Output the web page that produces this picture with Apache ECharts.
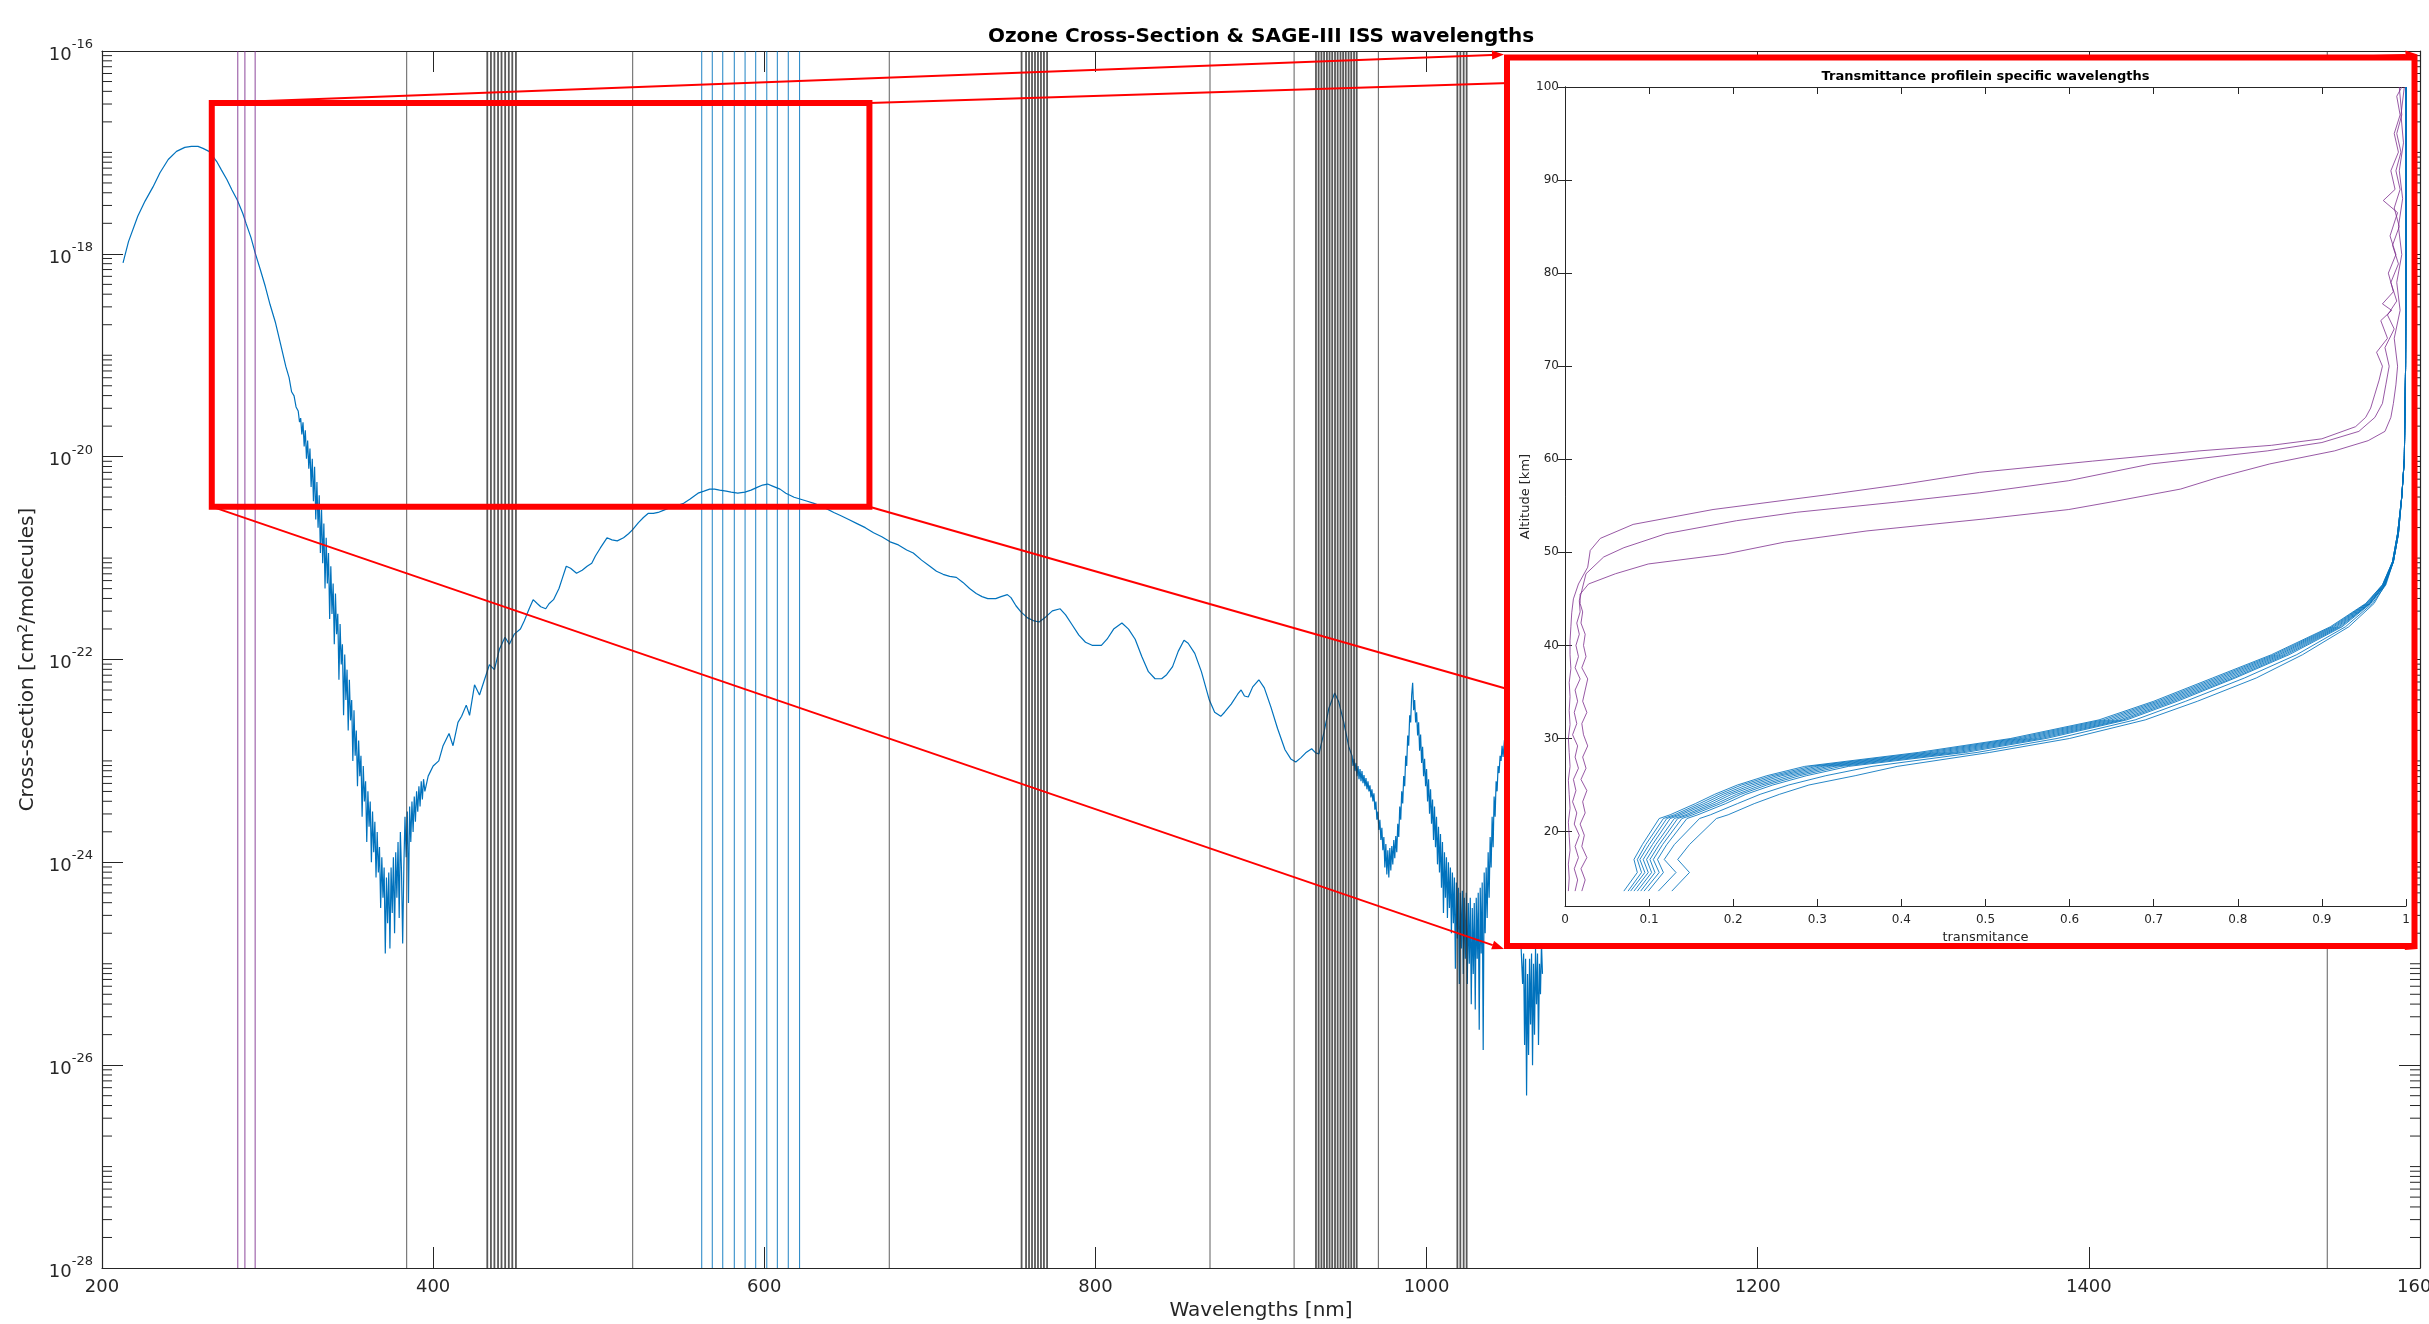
<!DOCTYPE html>
<html><head><meta charset="utf-8">
<script src="https://cdn.jsdelivr.net/npm/echarts@6/dist/echarts.min.js"></script>
<style>html,body{margin:0;padding:0;background:#fff}#c{width:2429px;height:1324px}</style>
</head><body><div id="c"></div>
<script>
// ---------------- DATA ----------------
// Ozone absorption cross-section: [wavelength nm, log10(cross-section cm^2/molecule)]
const o3Spectrum = [
[212.7,-18.09],[216,-17.88],[221.6,-17.63],[226,-17.48],[230.8,-17.34],[235,-17.20],[240,-17.07],[245,-16.99],[250,-16.95],[254,-16.94],
[258,-16.94],[261,-16.96],[264.6,-16.99],[267,-17.04],[269.3,-17.09],[272,-17.17],[275.5,-17.27],[278.5,-17.37],[281.7,-17.47],[285,-17.60],
[287,-17.70],[290,-17.84],[292.5,-17.99],[295.5,-18.15],[298.6,-18.32],[301.5,-18.50],[304.8,-18.68],[308,-18.90],[311,-19.11],[313,-19.22],
[314.5,-19.36],[316,-19.40],[317.2,-19.51],[318.5,-19.55],[319.3,-19.66],
[320.0,-19.62],[320.7,-19.78],[321.4,-19.66],[322.1,-19.90],[322.8,-19.74],[323.5,-20.02],[324.2,-19.84],[324.9,-20.12],[325.6,-19.92],[326.3,-20.30],
[327.0,-20.02],[327.7,-20.44],[328.4,-20.10],[329.1,-20.62],[329.8,-20.25],[330.5,-20.70],[331.2,-20.38],[331.9,-20.95],[332.6,-20.52],[333.3,-21.05],
[334.0,-20.66],[334.7,-21.30],[335.4,-20.80],[336.1,-21.25],[336.8,-20.95],[337.5,-21.60],[338.2,-21.08],[338.9,-21.55],[339.6,-21.25],[340.3,-21.85],
[341.0,-21.35],[341.7,-21.75],[342.4,-21.55],[343.1,-22.20],[343.8,-21.65],[344.5,-22.05],[345.2,-21.85],[345.9,-22.55],[346.6,-21.95],[347.3,-22.40],
[348.0,-22.10],[348.7,-22.70],[349.4,-22.20],[350.1,-22.60],[350.8,-22.40],[351.5,-23.00],[352.2,-22.50],[352.9,-22.95],[353.6,-22.70],[354.3,-23.25],
[355.0,-22.80],[355.7,-23.15],[356.4,-22.95],[357.1,-23.55],[357.8,-23.05],[358.5,-23.40],[359.2,-23.20],[359.9,-23.80],[360.6,-23.30],[361.3,-23.65],
[362.0,-23.40],[362.7,-24.00],[363.4,-23.50],[364.1,-23.90],[364.8,-23.60],[365.5,-24.15],[366.2,-23.70],[366.9,-24.10],[367.6,-23.85],[368.3,-24.45],
[369.0,-23.95],[369.7,-24.35],[370.4,-24.05],[371.1,-24.90],[371.8,-24.15],[372.5,-24.60],[373.2,-24.10],[373.9,-24.85],[374.6,-24.05],[375.3,-24.50],
[376.0,-23.95],[376.7,-24.70],[377.4,-23.90],[378.1,-24.35],[378.8,-23.80],[379.5,-24.55],[380.2,-23.70],[380.9,-24.10],[381.6,-24.80],[382.3,-24.05],
[383.0,-23.55],[383.7,-23.95],[384.4,-23.50],[385.1,-24.40],[385.8,-23.45],[386.5,-23.80],[387.2,-23.40],[387.9,-23.70],[388.6,-23.35],[389.3,-23.60],
[390.0,-23.30],[390.7,-23.50],[391.4,-23.25],[392.1,-23.45],[392.8,-23.20],[393.5,-23.38],[394.2,-23.18],[395.0,-23.30],
[397,-23.15],[400,-23.05],[403.4,-23.00],[406,-22.85],[409.6,-22.73],[412,-22.85],[415,-22.62],[417.2,-22.56],[420,-22.45],[422,-22.55],
[425,-22.25],[428,-22.35],[431,-22.20],[434,-22.05],[437,-22.10],[440,-21.90],[443.4,-21.78],[446,-21.85],[449,-21.75],[452.7,-21.70],
[455,-21.62],[458,-21.50],[460.4,-21.41],[463,-21.45],[465,-21.48],[468,-21.50],[470,-21.45],[472.7,-21.41],[476,-21.30],[478,-21.20],
[480.4,-21.08],[483,-21.10],[486.6,-21.15],[490,-21.12],[493,-21.08],[495.8,-21.05],[498,-20.98],[501,-20.90],[505,-20.80],[508,-20.82],
[511.2,-20.83],[515,-20.80],[518,-20.76],[520.5,-20.72],[524,-20.65],[527,-20.60],[529.8,-20.56],[533,-20.56],[535.9,-20.55],[539,-20.53],
[542,-20.51],[546,-20.49],[551.3,-20.46],[555,-20.42],[560,-20.36],[563.6,-20.34],[567,-20.32],[570,-20.32],[573,-20.33],[577,-20.34],
[580,-20.35],[584,-20.36],[588.3,-20.35],[592,-20.33],[596,-20.30],[599,-20.28],[602,-20.27],[605,-20.29],[609.5,-20.32],[613,-20.36],
[618,-20.40],[622,-20.42],[626,-20.44],[630,-20.46],[636,-20.50],[642,-20.55],[646,-20.58],[651,-20.62],[656,-20.66],[661,-20.70],
[666,-20.75],[671,-20.79],[676,-20.84],[681,-20.87],[686,-20.92],[690,-20.95],[695,-21.02],[700,-21.08],[704,-21.13],[708,-21.16],
[712,-21.18],[716,-21.19],[720,-21.24],[724,-21.30],[728,-21.35],[731.5,-21.38],[735,-21.40],[739.8,-21.40],[743,-21.38],[746.8,-21.36],
[749,-21.39],[752,-21.47],[755,-21.53],[759,-21.59],[763,-21.62],[766,-21.63],[770,-21.58],[774,-21.52],[778.7,-21.50],[782,-21.56],
[786,-21.66],[790,-21.76],[794,-21.83],[798,-21.86],[803.6,-21.86],[807,-21.80],[811,-21.70],[816,-21.64],[820,-21.70],[824,-21.80],
[828,-21.97],[832,-22.12],[836,-22.19],[840,-22.19],[843,-22.15],[846.6,-22.07],[850,-21.92],[853.5,-21.81],[856,-21.84],[860,-21.94],
[864,-22.12],[868.8,-22.40],[872,-22.52],[875.7,-22.56],[878,-22.52],[882,-22.44],[886,-22.34],[888,-22.30],[890,-22.36],[892.3,-22.37],
[895,-22.27],[898.7,-22.20],[902,-22.28],[906,-22.47],[910,-22.68],[914.5,-22.89],[918,-22.98],[921,-23.01],[924,-22.97],[927,-22.92],
[930.6,-22.88],[933,-22.92],[935,-22.93],[938,-22.72],[941,-22.48],[944.5,-22.33],[947,-22.42],[950,-22.62],[953,-22.86],
[955.0,-22.95],[955.6,-23.05],[956.2,-22.98],[956.8,-23.10],[957.4,-23.02],[958.0,-23.15],[958.6,-23.05],[959.2,-23.18],[959.8,-23.08],[960.4,-23.20],
[961.0,-23.10],[961.6,-23.22],[962.2,-23.14],[962.8,-23.25],[963.4,-23.17],[964.0,-23.28],[964.6,-23.20],[965.2,-23.30],[965.8,-23.24],[966.4,-23.36],
[967.0,-23.28],[967.6,-23.40],[968.2,-23.32],[968.8,-23.48],[969.4,-23.40],[970.0,-23.58],[970.6,-23.50],[971.2,-23.68],[971.8,-23.58],[972.4,-23.78],
[973.0,-23.66],[973.6,-23.88],[974.2,-23.75],[974.8,-24.05],[975.4,-23.82],[976.0,-24.12],[976.6,-23.88],[977.2,-24.15],[977.8,-23.86],[978.4,-24.08],
[979.0,-23.84],[979.6,-24.02],[980.2,-23.78],[980.8,-23.96],[981.4,-23.74],[982.0,-23.90],[982.6,-23.62],[983.2,-23.75],[983.8,-23.45],[984.4,-23.58],
[985.0,-23.30],[985.6,-23.42],[986.2,-23.15],[986.8,-23.25],[987.4,-22.95],[988.0,-23.05],[988.6,-22.75],[989.2,-22.85],[989.8,-22.55],[990.4,-22.62],
[991.0,-22.35],[991.6,-22.23],[992.2,-22.50],[992.8,-22.40],[993.4,-22.62],[994.0,-22.52],[994.6,-22.75],[995.2,-22.62],[995.8,-22.90],[996.4,-22.74],
[997.0,-23.02],[997.6,-22.86],[998.2,-23.15],[998.8,-22.98],[999.4,-23.25],[1000.0,-23.08],[1000.6,-23.40],[1001.2,-23.18],[1001.8,-23.52],[1002.4,-23.28],
[1003.0,-23.62],[1003.6,-23.38],[1004.2,-23.78],[1004.8,-23.45],[1005.4,-23.85],[1006.0,-23.55],[1006.6,-24.02],[1007.2,-23.65],[1007.8,-24.10],[1008.4,-23.72],
[1009.0,-24.25],[1009.6,-23.80],[1010.2,-24.50],[1010.8,-23.90],[1011.4,-24.35],[1012.0,-23.95],[1012.6,-24.55],[1013.2,-24.00],[1013.8,-24.45],[1014.4,-24.05],
[1015.0,-24.70],[1015.6,-24.10],[1016.2,-24.60],[1016.8,-24.15],[1017.4,-25.05],[1018.0,-24.20],[1018.6,-24.75],[1019.2,-24.25],[1019.8,-25.20],[1020.4,-24.30],
[1021.0,-24.85],[1021.6,-24.28],[1022.2,-25.10],[1022.8,-24.35],[1023.4,-24.95],[1024.0,-24.30],[1024.6,-25.20],[1025.2,-24.40],[1025.8,-25.00],[1026.4,-24.35],
[1027.0,-25.40],[1027.6,-24.45],[1028.2,-25.10],[1028.8,-24.40],[1029.4,-25.45],[1030.0,-24.35],[1030.6,-24.95],[1031.2,-24.30],[1031.8,-25.65],[1032.4,-24.25],
[1033.0,-24.90],[1033.6,-24.20],[1034.2,-25.85],[1034.8,-24.10],[1035.4,-24.70],[1036.0,-24.05],[1036.6,-24.55],[1037.2,-23.90],[1037.8,-24.35],[1038.4,-23.75],
[1039.0,-24.05],[1039.6,-23.55],[1040.2,-23.85],[1040.8,-23.35],[1041.4,-23.55],[1042.0,-23.20],[1042.6,-23.30],[1043.2,-23.05],[1043.8,-23.12],[1044.4,-22.95],
[1045.0,-23.00],[1045.6,-22.85],[1046.2,-22.96],[1047,-22.80],[1048,-22.70],[1050,-22.90],[1052,-23.40],[1054,-23.90],[1056,-24.40],[1057,-24.80],
[1058,-25.20],[1058.6,-24.90],[1059.2,-25.80],[1059.8,-24.95],[1060.4,-26.30],[1061.0,-25.10],[1061.6,-25.90],[1062.2,-24.95],[1062.8,-25.60],[1063.4,-24.90],
[1064.0,-26.00],[1064.6,-25.00],[1065.2,-25.70],[1065.8,-24.85],[1066.4,-25.40],[1067.0,-24.90],[1067.6,-25.80],[1068.2,-25.00],[1068.8,-25.30],[1069.4,-24.80],
[1070.0,-25.10]
];

// SAGE-III ISS channel wavelengths (nm)
const sageGraySingle = [384, 520.5, 675.5, 869.2, 920, 970.9, 1544];
const sageGrayBands = [432.7, 434.9, 437.0, 439.2, 441.3, 443.5, 445.7, 447.8, 450.0,
  755.4, 758.1, 759.9, 761.7, 763.5, 765.3, 767.1, 768.9, 770.8,
  933.2, 934.8, 936.5, 938.1, 939.8, 941.4, 943.0, 944.7, 946.3, 948.0, 949.6, 951.2, 952.9, 954.5, 956.2, 957.8,
  1018.6, 1020.4, 1022.4, 1024.2];
const sageBlue = [562.2, 568.6, 574.9, 581.9, 588.4, 594.8, 601.5, 607.9, 614.5, 621.3];
const sagePurple = [282.0, 286.3, 292.5];

// Inset: transmittance profiles
const blueAltitudes = [13.6,15.6,17.0,18.6,21.4,21.8,23.0,24.0,25.0,26.0,27.0,28.5,30.0,32.0,34.0,36.5,39.0,42.0,44.5,46.5,49.0,52.0,56.0,60.0,70,80,90,100];
const blueTransmittance = [
 [0.070,0.086,0.082,0.092,0.112,0.125,0.155,0.178,0.205,0.240,0.285,0.420,0.530,0.635,0.700,0.770,0.840,0.910,0.952,0.972,0.984,0.990,0.995,0.998,0.9995,1,1,1],
 [0.075,0.091,0.086,0.096,0.117,0.130,0.160,0.183,0.210,0.246,0.292,0.428,0.536,0.640,0.704,0.774,0.843,0.912,0.953,0.972,0.984,0.990,0.995,0.998,0.9995,1,1,1],
 [0.078,0.095,0.089,0.100,0.121,0.134,0.165,0.188,0.216,0.252,0.299,0.436,0.542,0.645,0.708,0.778,0.846,0.914,0.954,0.973,0.984,0.990,0.995,0.998,0.9995,1,1,1],
 [0.082,0.099,0.093,0.104,0.125,0.138,0.170,0.193,0.222,0.258,0.306,0.444,0.548,0.650,0.712,0.782,0.849,0.916,0.955,0.973,0.985,0.990,0.995,0.998,0.9995,1,1,1],
 [0.086,0.103,0.097,0.108,0.130,0.143,0.175,0.198,0.228,0.265,0.313,0.452,0.554,0.655,0.716,0.786,0.852,0.918,0.956,0.974,0.985,0.991,0.995,0.998,0.9995,1,1,1],
 [0.090,0.107,0.101,0.112,0.134,0.147,0.180,0.204,0.234,0.272,0.320,0.460,0.560,0.660,0.720,0.790,0.855,0.920,0.957,0.974,0.985,0.991,0.995,0.998,0.9995,1,1,1],
 [0.094,0.112,0.105,0.116,0.139,0.152,0.185,0.209,0.240,0.279,0.328,0.468,0.566,0.664,0.724,0.794,0.858,0.922,0.957,0.975,0.985,0.991,0.995,0.998,0.9995,1,1,1],
 [0.099,0.117,0.110,0.121,0.145,0.158,0.191,0.215,0.247,0.287,0.337,0.476,0.572,0.668,0.728,0.797,0.861,0.924,0.958,0.975,0.985,0.991,0.995,0.998,0.9995,1,1,1],
 [0.111,0.132,0.118,0.130,0.160,0.173,0.205,0.232,0.266,0.310,0.365,0.490,0.585,0.678,0.738,0.808,0.870,0.928,0.960,0.976,0.985,0.991,0.995,0.998,0.9995,1,1,1],
 [0.127,0.148,0.134,0.148,0.180,0.194,0.225,0.255,0.290,0.345,0.395,0.505,0.600,0.690,0.752,0.822,0.877,0.932,0.962,0.975,0.984,0.990,0.995,0.998,0.9995,1,1,1]
];
// purple profiles: [transmittance, altitude km]
const purpleProfile1 = [[0.004,13.6],[0.005,15],[0.004,16.5],[0.006,18],[0.005,19.5],[0.004,21],[0.006,22.5],[0.005,24],[0.004,25.5],[0.006,27],
 [0.005,28.5],[0.004,30],[0.006,31.5],[0.005,33],[0.006,34.5],[0.005,36],[0.007,37.5],[0.006,39],[0.006,40.5],[0.007,42],[0.008,43.5],[0.010,45],
 [0.016,46.6],[0.027,48.4],[0.030,50.2],[0.042,51.5],[0.081,53.0],[0.176,54.6],[0.317,56.25],[0.401,57.3],[0.493,58.6],[0.627,59.8],[0.754,60.9],
 [0.84,61.5],[0.90,62.2],[0.94,63.5],[0.952,64.5],[0.958,65.5],[0.963,67],[0.968,68.5],[0.972,70],[0.965,71.5],[0.978,73],[0.970,74.9],[0.983,76],
 [0.972,76.7],[0.985,78],[0.979,80],[0.988,82],[0.981,84],[0.990,86.5],[0.973,87.8],[0.987,89],[0.982,91],[0.991,93],[0.986,95],[0.993,97],[0.989,99],[0.995,100]];
const purpleProfile2 = [[0.012,13.6],[0.015,14.8],[0.011,16],[0.016,17.2],[0.012,18.4],[0.017,19.6],[0.011,20.8],[0.014,22],[0.009,23.2],[0.013,24.4],
 [0.010,25.6],[0.016,26.8],[0.012,28],[0.015,29.2],[0.009,30.4],[0.014,31.6],[0.011,32.8],[0.015,34],[0.012,35.2],[0.018,36.4],[0.012,37.6],[0.016,38.8],
 [0.013,40],[0.017,41.2],[0.014,42.4],[0.018,43.6],[0.017,44.8],[0.020,45.9],[0.025,47.7],[0.046,49.5],[0.070,50.5],[0.120,52.0],[0.204,53.4],[0.275,54.3],
 [0.394,55.4],[0.493,56.4],[0.599,57.7],[0.697,59.5],[0.835,60.9],[0.90,61.8],[0.944,63],[0.963,64.5],[0.972,66],[0.976,68],[0.980,70],[0.975,72],
 [0.986,74],[0.978,75.5],[0.989,77],[0.982,79],[0.991,81],[0.984,83],[0.992,85],[0.986,87],[0.993,89],[0.988,91],[0.994,93],[0.989,95],[0.995,97],[0.992,100]];
const purpleProfile3 = [[0.020,13.6],[0.024,14.8],[0.019,16],[0.026,17.2],[0.020,18.4],[0.023,19.6],[0.018,20.8],[0.024,22],[0.021,23.2],[0.026,24.4],
 [0.019,25.6],[0.025,26.8],[0.021,28],[0.027,29.2],[0.022,30.4],[0.020,31.6],[0.026,32.8],[0.021,34],[0.024,35.2],[0.027,36.4],[0.020,37.6],[0.025,38.8],
 [0.022,40],[0.024,41.2],[0.019,42.4],[0.021,43.6],[0.018,44.5],[0.018,45.5],[0.028,46.6],[0.060,47.7],[0.099,48.75],[0.190,49.8],[0.261,51.1],[0.359,52.3],
 [0.500,53.6],[0.599,54.6],[0.655,55.5],[0.732,56.8],[0.775,58.0],[0.838,59.5],[0.915,60.9],[0.955,62],[0.975,63],[0.982,64.5],[0.985,66],[0.988,68],
 [0.990,70],[0.986,73],[0.993,76],[0.989,79],[0.995,82],[0.991,85],[0.996,88],[0.992,91],[0.997,94],[0.994,97],[0.998,100]];

// Axis ticks / labels
const xTickStep = 200, xMin = 200, xMax = 1600;
const yExpMin = -28, yExpMax = -16, yExpStep = 2;
const insetAltTicks = [20, 30, 40, 50, 60, 70, 80, 90, 100];
// zoom annotation box on the main axes (wavelength nm, log10 cross-section)
const zoomBox = { x0: 266.3, x1: 663.5, y0: -16.513, y1: -20.493 };

// ---------------- CHART ----------------
const FONT = 'DejaVu Sans';
const AX = '#262626';
const chart = echarts.init(document.getElementById('c'), null, { renderer: 'canvas' });

// minor log ticks (2..9 within each decade, plus unlabeled odd decades)
const minorTicks = [];
for (let e = yExpMin; e < yExpMax; e++) {
  if ((e - yExpMin) % yExpStep !== 0) minorTicks.push(e);
  for (let k = 2; k <= 9; k++) minorTicks.push(e + Math.log10(k));
}

function vlines(values, color, opacity, width) {
  return {
    type: 'custom', xAxisIndex: 0, yAxisIndex: 0, z: 3, silent: true, animation: false,
    data: values.map(v => [v, yExpMax]),
    renderItem: (params, api) => {
      const p1 = api.coord([api.value(0), yExpMin]);
      const p2 = api.coord([api.value(0), yExpMax]);
      return { type: 'line', shape: { x1: p1[0], y1: p1[1], x2: p2[0], y2: p2[1] },
        style: { stroke: color, lineWidth: width, opacity: opacity } };
    }
  };
}

const insetSeries = [];
blueTransmittance.forEach(arr => {
  insetSeries.push({ type: 'line', xAxisIndex: 2, yAxisIndex: 2, z: 20, showSymbol: false, silent: true,
    data: arr.map((t, i) => [t, blueAltitudes[i]]),
    lineStyle: { color: '#0072BD', width: 1, opacity: 0.85 } });
});
[purpleProfile1, purpleProfile2, purpleProfile3].forEach(p => {
  insetSeries.push({ type: 'line', xAxisIndex: 2, yAxisIndex: 2, z: 20, showSymbol: false, silent: true,
    data: p, lineStyle: { color: '#7E2F8E', width: 1, opacity: 0.8 } });
});

const axisLineStyle = { color: AX, width: 1.2 };
const option = {
  animation: false,
  backgroundColor: '#fff',
  textStyle: { fontFamily: FONT },
  title: [
    { text: 'Ozone Cross-Section & SAGE-III ISS wavelengths', left: 1261, top: 27, textAlign: 'center', padding: 0,
      textStyle: { fontSize: 20, fontWeight: 'bold', color: '#000', fontFamily: FONT } },
    { text: 'Transmittance profilein specific wavelengths', left: 1985.5, top: 70, textAlign: 'center', padding: 0, z: 20,
      textStyle: { fontSize: 13, fontWeight: 'bold', color: '#000', fontFamily: FONT } }
  ],
  grid: [
    { left: 102, top: 51, width: 2318, height: 1217, containLabel: false, outerBoundsMode: 'none' },
    { left: 1565, top: 87, width: 841, height: 819, containLabel: false, outerBoundsMode: 'none' }
  ],
  xAxis: [
    { type: 'value', gridIndex: 0, min: xMin, max: xMax, interval: xTickStep, position: 'bottom',
      axisLine: { show: true, lineStyle: axisLineStyle }, splitLine: { show: false },
      axisTick: { show: true, inside: true, length: 21, lineStyle: { color: AX, width: 1 } },
      axisLabel: { fontSize: 18, color: AX, margin: 10, fontFamily: FONT, formatter: v => String(v) },
      name: 'Wavelengths [nm]', nameLocation: 'middle', nameGap: 32,
      nameTextStyle: { fontSize: 20, color: AX, fontFamily: FONT } },
    { type: 'value', gridIndex: 0, min: xMin, max: xMax, interval: xTickStep, position: 'top',
      axisLine: { show: true, lineStyle: axisLineStyle }, splitLine: { show: false },
      axisTick: { show: true, inside: true, length: 21, lineStyle: { color: AX, width: 1 } },
      axisLabel: { show: false } },
    { type: 'value', gridIndex: 1, min: 0, max: 1, interval: 0.1, position: 'bottom', z: 20,
      axisLine: { show: true, lineStyle: { color: AX, width: 1 } }, splitLine: { show: false },
      axisTick: { show: true, inside: true, length: 7, lineStyle: { color: AX, width: 1 } },
      axisLabel: { fontSize: 12, color: AX, margin: 8, fontFamily: FONT,
        formatter: v => (Math.abs(v) < 1e-9 ? '0' : Math.abs(v - 1) < 1e-9 ? '1' : v.toFixed(1)) },
      name: 'transmitance', nameLocation: 'middle', nameGap: 22,
      nameTextStyle: { fontSize: 13, color: AX, fontFamily: FONT } },
    { type: 'value', gridIndex: 1, min: 0, max: 1, interval: 0.1, position: 'top', z: 20,
      axisLine: { show: true, lineStyle: { color: AX, width: 1 } }, splitLine: { show: false },
      axisTick: { show: true, inside: true, length: 7, lineStyle: { color: AX, width: 1 } },
      axisLabel: { show: false } }
  ],
  yAxis: [
    { type: 'value', gridIndex: 0, min: yExpMin, max: yExpMax, interval: yExpStep, position: 'left',
      axisLine: { show: true, lineStyle: axisLineStyle }, splitLine: { show: false },
      axisTick: { show: true, inside: true, length: 21, lineStyle: { color: AX, width: 1 } },
      axisLabel: { color: AX, margin: 9, fontSize: 18, fontFamily: FONT,
        formatter: v => '{b|10}{s|' + v + '}',
        rich: { b: { fontSize: 18, fontFamily: FONT, color: AX, lineHeight: 26, verticalAlign: 'bottom' },
                s: { fontSize: 13, fontFamily: FONT, color: AX, lineHeight: 26, verticalAlign: 'top', padding: [0, 0, 0, 0] } } },
      name: 'Cross-section [cm{s|2}/molecules]', nameLocation: 'middle', nameGap: 58,
      nameTextStyle: { fontSize: 20, color: AX, fontFamily: FONT,
        rich: { s: { fontSize: 14, fontFamily: FONT, color: AX, verticalAlign: 'top', lineHeight: 24 } } } },
    { type: 'value', gridIndex: 0, min: yExpMin, max: yExpMax, interval: yExpStep, position: 'right',
      axisLine: { show: true, lineStyle: axisLineStyle }, splitLine: { show: false },
      axisTick: { show: true, inside: true, length: 21, lineStyle: { color: AX, width: 1 } },
      axisLabel: { show: false } },
    { type: 'value', gridIndex: 1, min: 12, max: 100, position: 'left', z: 20,
      axisLine: { show: true, lineStyle: { color: AX, width: 1 } }, splitLine: { show: false },
      axisTick: { show: true, inside: true, length: 7, customValues: insetAltTicks, lineStyle: { color: AX, width: 1 } },
      axisLabel: { fontSize: 12, color: AX, margin: 6, fontFamily: FONT, customValues: insetAltTicks },
      name: 'Altitude [km]', nameLocation: 'middle', nameGap: 33,
      nameTextStyle: { fontSize: 13, color: AX, fontFamily: FONT } },
    { type: 'value', gridIndex: 1, min: 12, max: 100, position: 'right', z: 20,
      axisLine: { show: true, lineStyle: { color: AX, width: 1 } }, splitLine: { show: false },
      axisTick: { show: true, inside: true, length: 7, customValues: insetAltTicks, lineStyle: { color: AX, width: 1 } },
      axisLabel: { show: false, customValues: insetAltTicks } }
  ],
  series: [
    { type: 'line', xAxisIndex: 0, yAxisIndex: 0, z: 2, showSymbol: false, silent: true,
      data: o3Spectrum, lineStyle: { color: '#0072BD', width: 1.2 } },
    vlines(sageGraySingle, '#303030', 0.7, 1.1),
    vlines(sageGrayBands, '#2a2a2a', 0.78, 1.8),
    vlines(sageBlue, '#0072BD', 0.8, 1.1),
    vlines(sagePurple, '#7E2F8E', 0.8, 1.1),
    { type: 'custom', xAxisIndex: 0, yAxisIndex: 0, z: 1, silent: true,
      data: minorTicks.map(v => [xMin, v]),
      renderItem: (params, api) => {
        const pl = api.coord([xMin, api.value(1)]);
        const pr = api.coord([xMax, api.value(1)]);
        return { type: 'group', children: [
          { type: 'line', shape: { x1: pl[0], y1: pl[1], x2: pl[0] + 10, y2: pl[1] }, style: { stroke: AX, lineWidth: 1 } },
          { type: 'line', shape: { x1: pr[0] - 10, y1: pr[1], x2: pr[0], y2: pr[1] }, style: { stroke: AX, lineWidth: 1 } }
        ] };
      } }
  ].concat(insetSeries)
};
chart.setOption(option);

// ---- annotations (zoom box, arrows, inset frame) ----
const finder = { xAxisIndex: 0, yAxisIndex: 0 };
const a = chart.convertToPixel(finder, [zoomBox.x0, zoomBox.y0]);
const b = chart.convertToPixel(finder, [zoomBox.x1, zoomBox.y1]);
const frame = { x: 1507, y: 57.5, w: 907.5, h: 888.5, lw: 6 };
const RED = '#ff0000';
function arrow(x1, y1, x2, y2) {
  const ang = Math.atan2(y2 - y1, x2 - x1);
  const L = 12, W = 4.5;
  const bx = x2 - L * Math.cos(ang), by = y2 - L * Math.sin(ang);
  return [
    { type: 'line', z: 5, silent: true, shape: { x1: x1, y1: y1, x2: bx, y2: by }, style: { stroke: RED, lineWidth: 2 } },
    { type: 'polygon', z: 5, silent: true, shape: { points: [[x2, y2], [bx - W * Math.sin(ang), by + W * Math.cos(ang)], [bx + W * Math.sin(ang), by - W * Math.cos(ang)]] },
      style: { fill: RED } }
  ];
}
const fo = frame.lw / 2;
const elements = [
  { type: 'rect', z: 5, silent: true, shape: { x: a[0], y: a[1], width: b[0] - a[0], height: b[1] - a[1] },
    style: { fill: 'none', stroke: RED, lineWidth: 6 } }
].concat(
  arrow(a[0], a[1], frame.x - fo, frame.y - fo),
  arrow(b[0], a[1], frame.x + frame.w + fo, frame.y - fo),
  arrow(a[0], b[1], frame.x - fo, frame.y + frame.h + fo),
  arrow(b[0], b[1], frame.x + frame.w + fo, frame.y + frame.h + fo),
  [{ type: 'rect', z: 10, silent: true, shape: { x: frame.x, y: frame.y, width: frame.w, height: frame.h },
     style: { fill: '#ffffff', stroke: RED, lineWidth: frame.lw } }]
);
chart.setOption({ graphic: { elements: elements } });
</script>
</body></html>
